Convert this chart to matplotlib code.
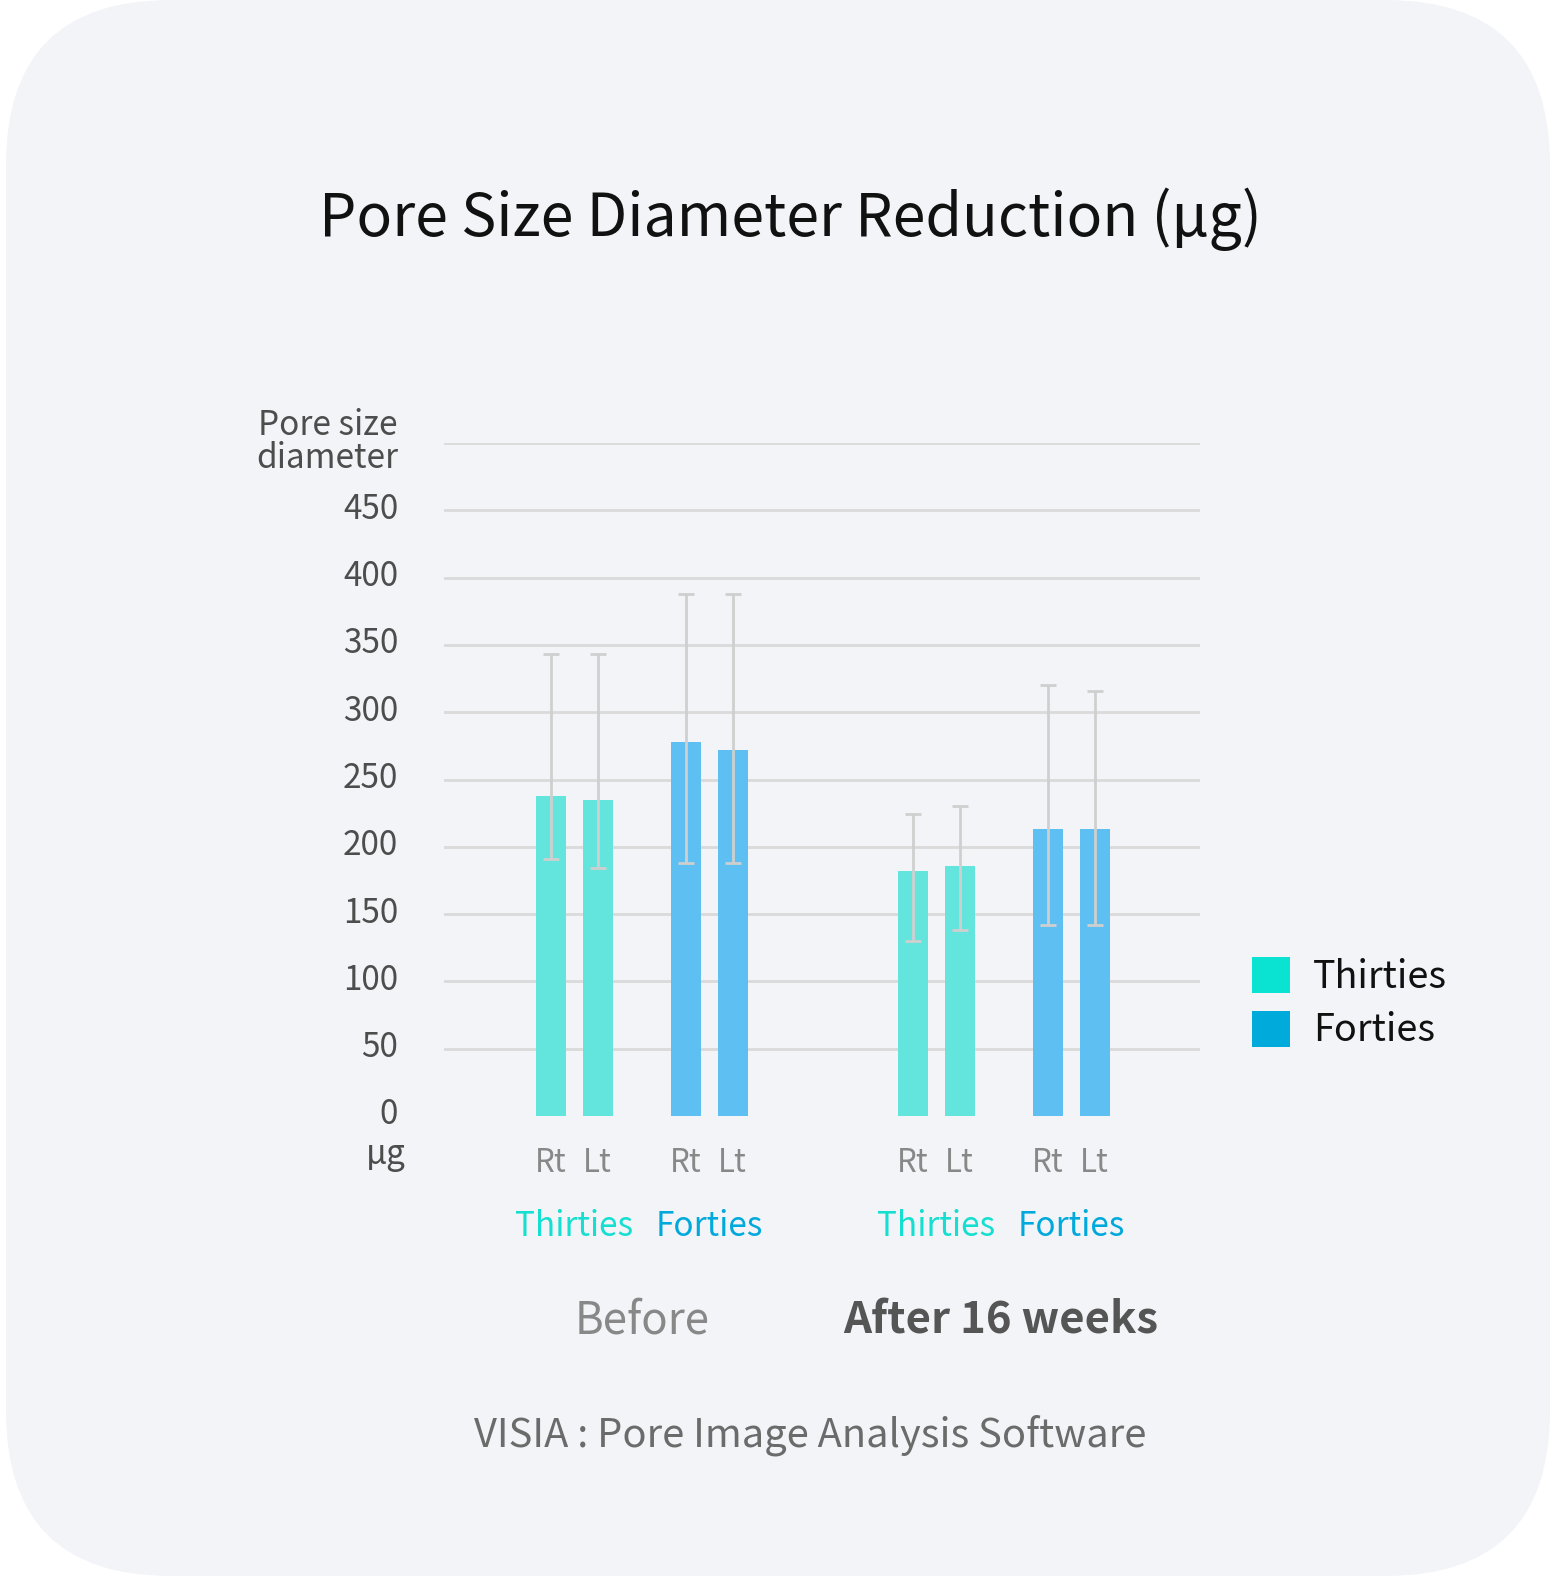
import matplotlib.pyplot as plt
from matplotlib.patches import FancyBboxPatch, Patch
from matplotlib.transforms import ScaledTranslation

plt.rcParams['font.family'] = ['Noto Sans CJK KR', 'DejaVu Sans']

# data
periods = ['Before', 'After 16 weeks']
ages = ['Thirties', 'Forties']
sides = ['Rt', 'Lt']

# mean pore size per bar: [thirties Rt, thirties Lt, forties Rt, forties Lt]
before_mean = [238, 235, 278, 272]
before_high = [343, 343, 388, 388]
before_low = [191, 184, 188, 188]

after_mean = [182, 186, 213, 213]
after_high = [224, 230, 320, 316]
after_low = [130, 138, 142, 142]

yticks = [0, 50, 100, 150, 200, 250, 300, 350, 400, 450]

bar_colors = {'Thirties': '#63e4dd', 'Forties': '#5ebff3'}
legend_colors = {'Thirties': '#0be3d2', 'Forties': '#00abdb'}
label_colors = {'Thirties': '#14dfd0', 'Forties': '#00a9dc'}

W, H = 1553, 1581
fig = plt.figure(figsize=(W / 100, H / 100), dpi=100)
fig.patch.set_facecolor('white')


def fx(px):
    return px / W


def fy(py):
    return 1 - py / H


# rounded card background
bg = fig.add_axes([0, 0, 1, 1])
bg.set_xlim(0, W)
bg.set_ylim(H, 0)
bg.axis('off')
bg.add_patch(FancyBboxPatch((6, 0), 1544, 1576, boxstyle='round,pad=0,rounding_size=165',
                            facecolor='#f3f4f8', edgecolor='none'))

# main axes in pixel-like x units
ax_l, ax_r, ax_t, ax_b = 444, 1200, 443, 1116
ax = fig.add_axes([fx(ax_l), fy(ax_b), fx(ax_r - ax_l), (ax_b - ax_t) / H])
ax.set_facecolor('none')
ax.set_xlim(ax_l, ax_r)
ax.set_ylim(0, 500)

group_start = [550.7, 912.7]
pair_step = 135
side_step = 47
bar_w = 30

for g, (means, highs, lows) in enumerate([(before_mean, before_high, before_low),
                                          (after_mean, after_high, after_low)]):
    for a, age in enumerate(ages):
        for s in range(2):
            i = a * 2 + s
            x = group_start[g] + a * pair_step + s * side_step
            ax.bar(x, means[i], width=bar_w, color=bar_colors[age], zorder=2)
            ax.errorbar(x, means[i], yerr=[[means[i] - lows[i]], [highs[i] - means[i]]],
                        fmt='none', ecolor='#cfcfcf', elinewidth=2, capsize=5.8,
                        capthick=2, zorder=3)
            fig.text(fx(x), fy(1163), sides[s], ha='center', va='center',
                     fontsize=22.5, color='#888888')
        pc = group_start[g] + a * pair_step + side_step / 2
        fig.text(fx(pc), fy(1226), age, ha='center', va='center',
                 fontsize=24, color=label_colors[age])
    gc = group_start[g] + pair_step / 2 + side_step / 2
    fig.text(fx(gc - 3 * g), fy(1321), periods[g], ha='center', va='center', fontsize=31.5,
             color='#888888' if g == 0 else '#555555',
             fontweight='normal' if g == 0 else 'bold')

for v in yticks[1:] + [500]:
    ax.axhline(v, color='#dadada', lw=2, zorder=1)

ax.set_yticks(yticks)
ax.set_yticklabels([str(v) for v in yticks])
ax.tick_params(axis='y', length=0, pad=33, labelsize=24, labelcolor='#4d4d4d')
shift = ScaledTranslation(0, 5 / 100, fig.dpi_scale_trans)
for lab in ax.get_yticklabels():
    lab.set_transform(lab.get_transform() + shift)
ax.set_xticks([])
for sp in ax.spines.values():
    sp.set_visible(False)

fig.text(fx(398), fy(442), 'Pore size\ndiameter', ha='right', va='center',
         fontsize=24, color='#4d4d4d', linespacing=0.95)
fig.text(fx(386), fy(1155), 'µg', ha='center', va='center', fontsize=24, color='#4d4d4d')

fig.text(fx(790), fy(219), 'Pore Size Diameter Reduction (µg)', ha='center', va='center',
         fontsize=42.5, color='#111111')
fig.text(fx(810), fy(1435), 'VISIA : Pore Image Analysis Software', ha='center', va='center',
         fontsize=28.7, color='#6b6b6b')

handles = [Patch(facecolor=legend_colors[a], edgecolor='none', label=a) for a in ages]
fig.legend(handles=handles, loc='upper left', bbox_to_anchor=(fx(1252), fy(957)),
           frameon=False, fontsize=27.2, handlelength=1.0, handleheight=1.08,
           handletextpad=0.62, labelspacing=0.37, borderpad=0, borderaxespad=0,
           labelcolor='#111111')

fig.savefig('out.png', dpi=100, facecolor='white')
